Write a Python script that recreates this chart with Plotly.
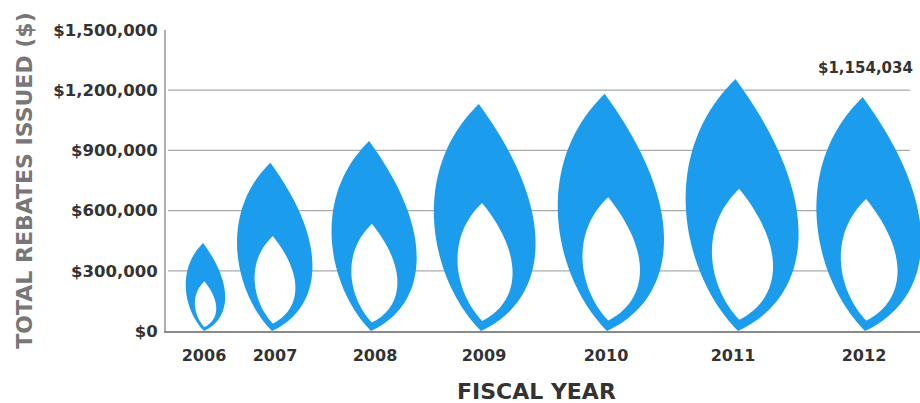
import plotly.graph_objects as go

years = ["2006", "2007", "2008", "2009", "2010", "2011", "2012"]
rebates = [434000, 830000, 937000, 1120000, 1170000, 1243000, 1154034]
y_ticks = [0, 300000, 600000, 900000, 1200000, 1500000]
y_tick_labels = ["$0", "$300,000", "$600,000", "$900,000", "$1,200,000", "$1,500,000"]
value_label = "$1,154,034"

# Page geometry and x positions (pixels from the y axis)
W, H = 920, 403
M_L, M_R, M_T, M_B = 166, 0, 30, 72
flame_x = [38, 106, 205, 315, 441, 572, 699]
label_x = [38, 109, 209, 318, 440, 567, 698]
GRID_END = 744
BLUE = "#1b9cec"
DARK = "#333333"
GREY = "#a9a9a9"
FONT = "DejaVu Sans"

PX_PER_VALUE = (H - M_T - M_B) / 1500000

# Flame glyph as cubic Bezier segments (unit height, centred on the base tip)
OUTER = [
    ((0, 0), (0.30, 0.14), (0.35, 0.52), (-0.01, 1.01)),
    ((-0.01, 1.01), (-0.33, 0.70), (-0.22, 0.22), (0, 0)),
]
INNER = [
    ((0.005, 0.045), (0.165, 0.125), (0.205, 0.32), (0.005, 0.57)),
    ((0.005, 0.57), (-0.165, 0.41), (-0.115, 0.17), (0.005, 0.045)),
]


def sample(segments, steps=48):
    pts = []
    for p0, p1, p2, p3 in segments:
        for i in range(steps):
            t = i / steps
            a, b, c, d = (1 - t) ** 3, 3 * t * (1 - t) ** 2, 3 * t * t * (1 - t), t ** 3
            pts.append((a * p0[0] + b * p1[0] + c * p2[0] + d * p3[0],
                        a * p0[1] + b * p1[1] + c * p2[1] + d * p3[1]))
    pts.append(segments[0][0])
    return pts


fig = go.Figure()
outer_pts, inner_pts = sample(OUTER), sample(INNER)
for year, value, cx in zip(years, rebates, flame_x):
    size_px = value * PX_PER_VALUE
    for pts, colour, part in ((outer_pts, BLUE, "flame"), (inner_pts, "#ffffff", "core")):
        fig.add_trace(go.Scatter(
            x=[cx + u * size_px for u, _ in pts],
            y=[v * value for _, v in pts],
            mode="lines", fill="toself", fillcolor=colour,
            line=dict(width=0, color=colour, simplify=False),
            hoverinfo="skip", showlegend=False, name=f"{year} {part}",
            cliponaxis=False,
        ))

for tick in y_ticks[1:-1]:
    fig.add_shape(type="line", xref="x", yref="y", x0=2, x1=GRID_END, y0=tick, y1=tick,
                  line=dict(color=GREY, width=1.3), layer="below")

fig.add_annotation(x=flame_x[-1], y=rebates[-1], text=value_label, showarrow=False,
                   yshift=31, font=dict(family=FONT, size=15, color=DARK, weight=700))
fig.add_annotation(xref="paper", yref="paper", x=(536 - M_L) / (W - M_L - M_R), y=-0.25,
                   text="FISCAL YEAR", showarrow=False,
                   font=dict(family=FONT, size=22, color=DARK, weight=700))

fig.update_layout(
    width=W, height=H, autosize=False,
    margin=dict(l=M_L, r=M_R, t=M_T, b=M_B, pad=0),
    paper_bgcolor="#ffffff", plot_bgcolor="#ffffff",
    showlegend=False,
    font=dict(family=FONT, color=DARK),
    xaxis=dict(range=[0, W - M_L - M_R], tickmode="array", tickvals=label_x, ticktext=years,
               showgrid=False, zeroline=False, showline=True, linecolor="#8a8a8a", linewidth=1.5,
               ticks="outside", ticklen=9, tickcolor="rgba(255,255,255,0)",
               tickfont=dict(family=FONT, size=16, color=DARK, weight=700)),
    yaxis=dict(range=[0, 1500000], tickmode="array", tickvals=y_ticks, ticktext=y_tick_labels,
               showgrid=False, zeroline=False, showline=True, linecolor="#b0b0b0", linewidth=2,
               ticks="outside", ticklen=3, tickcolor="rgba(255,255,255,0)",
               tickfont=dict(family=FONT, size=16.5, color=DARK, weight=700),
               title=dict(text="TOTAL REBATES ISSUED ($)", standoff=15,
                          font=dict(family=FONT, size=22, color="#777777", weight=700))),
)

fig.write_html("out.html", config={"displayModeBar": False},
               post_script="document.body.style.margin='0';")
